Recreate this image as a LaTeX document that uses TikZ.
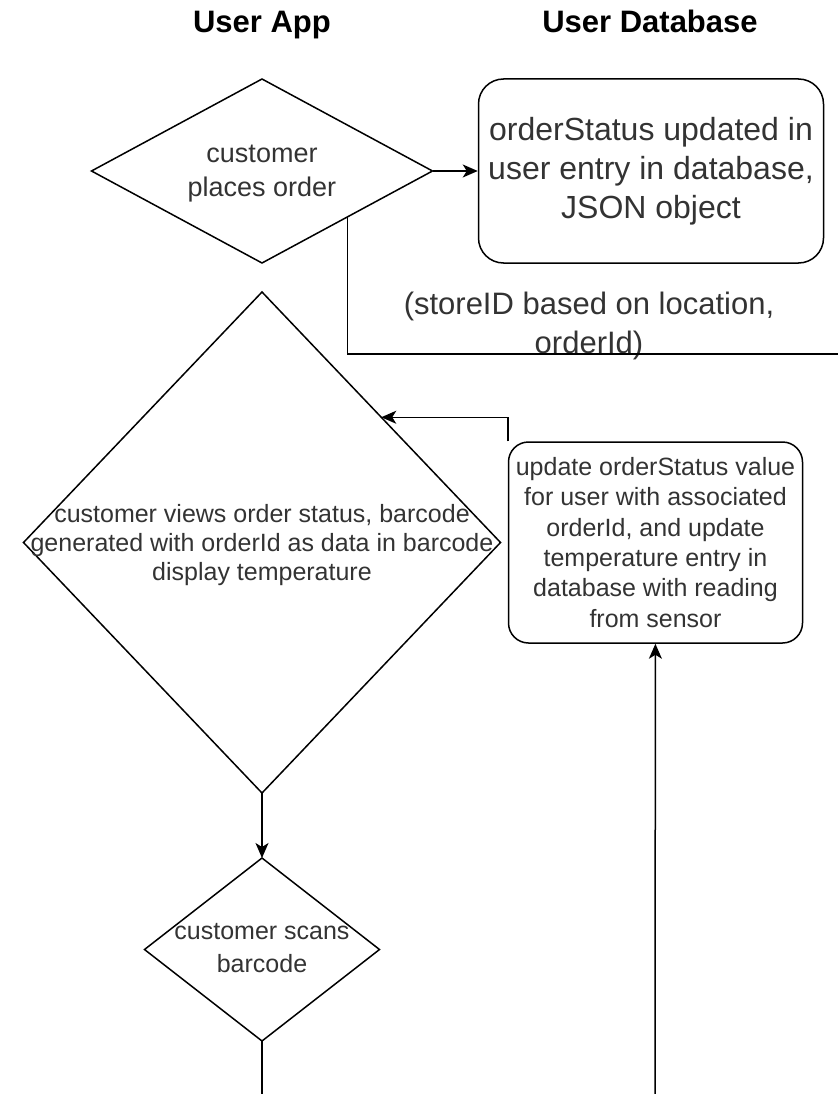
\documentclass[tikz,border=0pt]{standalone}
\usepackage{fontspec}
\setmainfont{Liberation Sans}
\usetikzlibrary{arrows.meta, positioning, shapes.geometric}

\begin{document}
\begin{tikzpicture}[
    x=1pt, y=-1pt,
    >={Stealth[length=15pt, width=13pt, inset=4pt]},
    line width=1.5pt,
    node distance=4cm,
    on grid,
    decision/.style={diamond, draw, inner sep=0pt, outer sep=0pt},
    store/.style={rectangle, draw, align=center, inner sep=2pt, text=black!80},
    txt/.style={align=center, inner sep=0pt, text=black!80},
    heading/.style={font=\fontsize{31}{37}\selectfont\bfseries, anchor=base},
]
    \useasboundingbox (0,0) rectangle (838,1094);

    \node[heading] (app title) at (262,33) {User App};
    \node[heading] (db title)  at (650,33) {User Database};

    \node[decision, minimum width=341pt, minimum height=184pt] (place) at (262,171) {};
    \node[store, right=389pt of place, minimum width=345pt, minimum height=184pt,
          rounded corners=25pt, font=\fontsize{32}{39}\selectfont] (json)
          {orderStatus updated in\\user entry in database,\\JSON object};
    \node[decision, below=371.5pt of place, minimum width=477pt, minimum height=501pt] (view) {};
    \node[store, right=393.5pt of view, minimum width=294pt, minimum height=201pt,
          rounded corners=20pt, font=\fontsize{25}{30.3}\selectfont] (update)
          {update orderStatus value\\for user with associated\\orderId, and update\\temperature entry in\\database with reading\\from sensor};
    \node[decision, below=407pt of view, minimum width=235pt, minimum height=183pt] (scan) {};

    % texts of the diamonds
    \node[txt, font=\fontsize{27}{34}\selectfont] (place text) at (262,174) {customer\\places order};
    \node[txt, font=\fontsize{25}{29}\selectfont] (view text)  at (262,545)
          {customer views order status, barcode\\generated with orderId as data in barcode\\display temperature};
    \node[txt, font=\fontsize{25}{33}\selectfont] (scan text)  at (262,948) {customer scans\\barcode};
    \node[txt, font=\fontsize{31}{39}\selectfont] (ids)        at (589,326) {(storeID based on location,\\orderId)};

    \coordinate (east end)   at (838,354);
    \coordinate (sensor)     at (655,1094);
    \coordinate (bottom end) at (262,1094);

    \path[->]
        (place)  edge (json)
        (view)   edge (scan)
        (sensor) edge (update)
    ;
    \draw     (place.south east) |- (east end);
    \draw[->] (update.north west) |- (view.north east);
    \draw     (scan) -- (bottom end);
\end{tikzpicture}
\end{document}
